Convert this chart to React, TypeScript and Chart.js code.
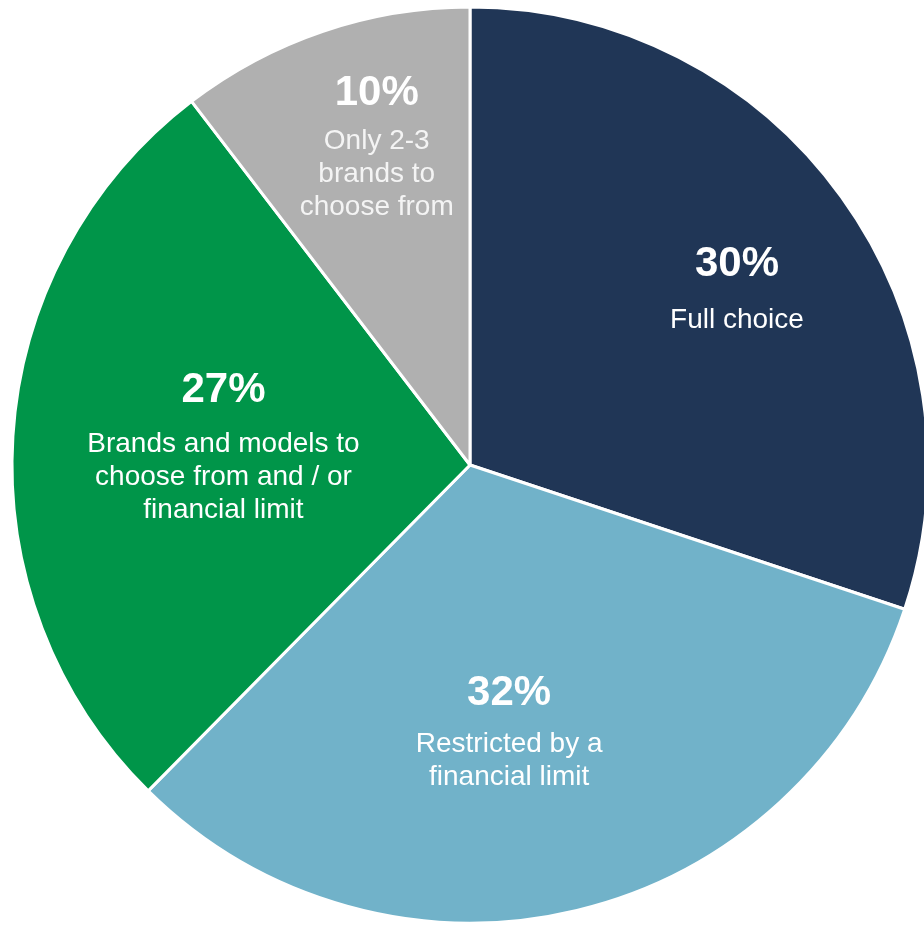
import { useEffect, useRef } from "react";
import { Chart, registerables } from "chart.js";

Chart.register(...registerables);

// ---- data ----
const categories = [
  "Full choice",
  "Restricted by a financial limit",
  "Brands and models to choose from and / or financial limit",
  "Only 2-3 brands to choose from",
];
const labelLines = [
  ["Full choice"],
  ["Restricted by a", "financial limit"],
  ["Brands and models to", "choose from and / or", "financial limit"],
  ["Only 2-3", "brands to", "choose from"],
];
const shares = [30.1, 32.3, 27.2, 10.4];
const percentLabels = ["30%", "32%", "27%", "10%"];

// ---- styling ----
const colors = ["#203656", "#71B2C9", "#009549", "#B0B0B0"];
const textColors = ["#FFFFFF", "#FFFFFF", "#FFFFFF", "#F4F4F4"];
// label placement relative to each arc (fraction of radius, angular nudge in deg, gap px)
const placement = [
  { frac: 0.7, nudge: 2.2, gap: 52 },
  { frac: 0.585, nudge: 5.1, gap: 47 },
  { frac: 0.54, nudge: 1.0, gap: 50 },
  { frac: 0.727, nudge: 2.45, gap: 44 },
];

const FONT = "'Liberation Sans', Arial, sans-serif";
const PCT_SIZE = 42;
const PCT_CAP = 30;
const LINE_SIZE = 28;
const LINE_HEIGHT = 33;

const sliceLabels = {
  id: "sliceLabels",
  afterDatasetsDraw(chart: any) {
    const ctx = chart.ctx;
    const meta = chart.getDatasetMeta(0);
    meta.data.forEach((arc: any, i: number) => {
      const { x, y, startAngle, endAngle, outerRadius } = arc.getProps(
        ["x", "y", "startAngle", "endAngle", "outerRadius"],
        true
      );
      const p = placement[i];
      const mid = (startAngle + endAngle) / 2 + (p.nudge * Math.PI) / 180;
      const d = outerRadius * p.frac;
      const cx = x + Math.cos(mid) * d;
      const cy = y + Math.sin(mid) * d;
      const lines = labelLines[i];
      const h = PCT_CAP + p.gap + (lines.length - 1) * LINE_HEIGHT;
      const pctBase = cy - h / 2 + PCT_CAP;
      ctx.save();
      ctx.textAlign = "center";
      ctx.textBaseline = "alphabetic";
      ctx.fillStyle = "#FFFFFF";
      ctx.font = `bold ${PCT_SIZE}px ${FONT}`;
      ctx.fillText(percentLabels[i], cx, pctBase);
      ctx.fillStyle = textColors[i];
      ctx.font = `${LINE_SIZE}px ${FONT}`;
      lines.forEach((ln, j) => {
        ctx.fillText(ln, cx, pctBase + p.gap + j * LINE_HEIGHT);
      });
      ctx.restore();
    });
  },
};

export default function App() {
  const ref = useRef<HTMLCanvasElement | null>(null);
  useEffect(() => {
    if (!ref.current) return;
    const chart = new Chart(ref.current, {
      type: "pie",
      data: {
        labels: categories,
        datasets: [
          {
            data: shares,
            backgroundColor: colors,
            borderColor: "#FFFFFF",
            borderWidth: 3,
            hoverOffset: 0,
          },
        ],
      },
      options: {
        responsive: false,
        animation: false,
        events: [],
        radius: 458,
        layout: { padding: 0 },
        plugins: {
          legend: { display: false },
          tooltip: { enabled: false },
        },
      } as any,
      plugins: [sliceLabels],
    });
    return () => chart.destroy();
  }, []);
  return (
    <div
      style={{
        position: "fixed",
        left: 0,
        top: 0,
        width: 924,
        height: 927,
        overflow: "hidden",
        background: "#FFFFFF",
      }}
    >
      <canvas ref={ref} width={940} height={930} style={{ display: "block" }} />
    </div>
  );
}
